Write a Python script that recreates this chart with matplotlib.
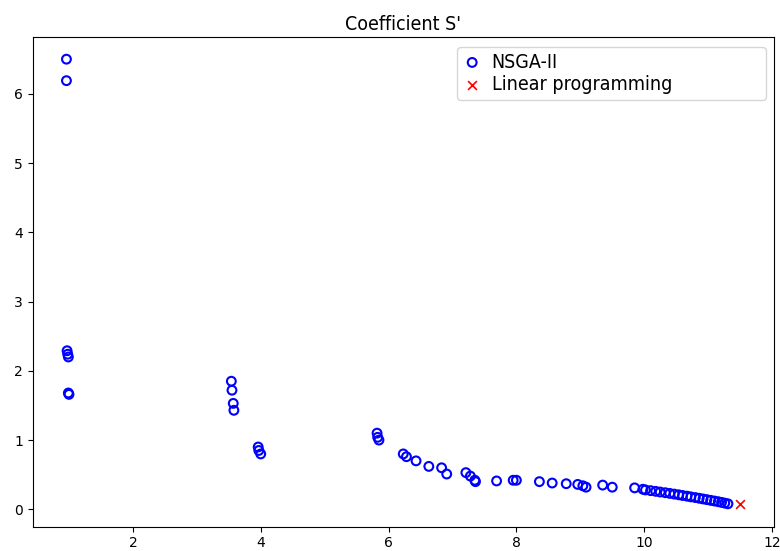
import matplotlib as mpl
mpl.use('Agg')
from matplotlib import pyplot as plt

# NSGA-II front
nsga_x = [0.96, 0.96, 0.97, 0.98, 0.99, 0.99, 1.00,
          3.54, 3.55, 3.57, 3.58, 3.96, 3.97, 4.00,
          5.82, 5.83, 5.85, 6.23, 6.28, 6.43, 6.63, 6.83, 6.91,
          7.21, 7.28, 7.35, 7.36, 7.69, 7.95, 8.00, 8.36, 8.56,
          8.78, 8.96, 9.04, 9.09, 9.35, 9.50, 9.85, 9.98,
          10.02, 10.10, 10.18, 10.25, 10.33, 10.40, 10.47, 10.54,
          10.60, 10.67, 10.73, 10.80, 10.86, 10.92, 10.98, 11.04,
          11.10, 11.16, 11.21, 11.26, 11.31]
nsga_y = [6.50, 6.19, 2.29, 2.24, 2.20, 1.68, 1.66,
          1.85, 1.72, 1.53, 1.43, 0.90, 0.85, 0.80,
          1.10, 1.04, 1.00, 0.80, 0.76, 0.70, 0.62, 0.60, 0.51,
          0.53, 0.48, 0.42, 0.40, 0.41, 0.42, 0.42, 0.40, 0.38,
          0.37, 0.36, 0.34, 0.32, 0.35, 0.32, 0.31, 0.29,
          0.28, 0.27, 0.26, 0.25, 0.24, 0.23, 0.22, 0.21,
          0.20, 0.19, 0.18, 0.17, 0.16, 0.15, 0.14, 0.13,
          0.12, 0.11, 0.10, 0.09, 0.08]

# linear programming solution
lp_x = [11.50]
lp_y = [0.07]

title = "Coefficient S'"
labels = ['NSGA-II', 'Linear programming']

fig = plt.figure(figsize=(7.8, 5.51), dpi=100)
ax = fig.add_axes([0.042, 0.044, 0.950, 0.889])

ax.scatter(nsga_x, nsga_y, s=40, facecolors='none', edgecolors='b',
           linewidths=1.5, label=labels[0])
ax.scatter(lp_x, lp_y, s=40, marker='x', color='r', linewidths=1.2,
           label=labels[1])

fnt = {'family': 'DejaVu Sans', 'stretch': 'condensed',
       'weight': 'light', 'size': 14}
ax.set_title(title, fontdict=fnt, pad=5)
# legend box is wider than its text in the original
ax.legend(loc='upper left', bbox_to_anchor=(0.572, 0.0, 0.418, 0.98),
          mode='expand', borderaxespad=0.0, prop=fnt,
          handletextpad=0.5, labelspacing=0.2, handlelength=1.0,
          borderpad=0.3)
ax.tick_params(labelsize=10)

plt.savefig('out.png', dpi=100)
